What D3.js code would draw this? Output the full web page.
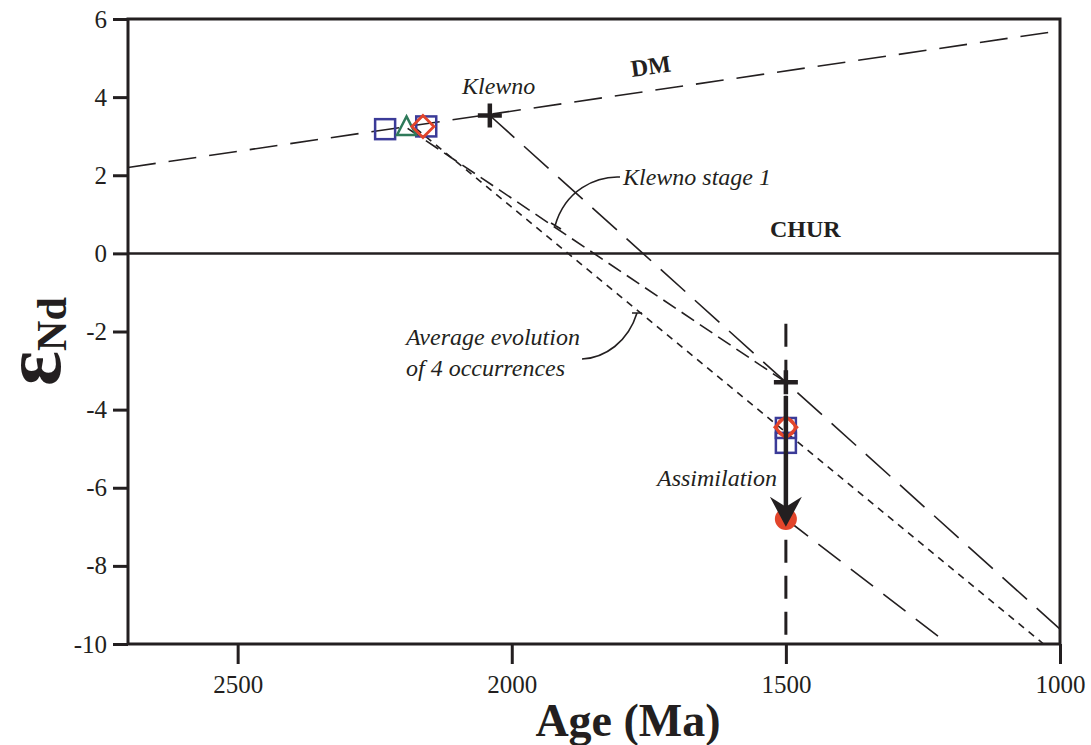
<!DOCTYPE html>
<html>
<head>
<meta charset="utf-8">
<script src="https://cdn.jsdelivr.net/npm/d3@7"></script>
<style>
  body { margin: 0; background: #fff; }
  svg { display: block; font-family: "Liberation Serif", "DejaVu Serif", serif; }
</style>
</head>
<body>
<svg id="chart" width="1091" height="745"></svg>
<script>
// Ticks
const xTicks = [2500, 2000, 1500, 1000];
const yTicks = [6, 4, 2, 0, -2, -4, -6, -8, -10];

// Evolution lines [age (Ma), eNd]
const dmLine = [[2700, 2.2], [1000, 5.7]];
const churLine = [[2700, 0], [1000, 0]];
const klewnoLine = [[2040, 3.53], [1000, -9.62]];
const stage1Line = [[2190, 3.2], [1500, -3.3]];
const averageLine = [[2175, 3.2], [1030, -10]];
const assimLine = [[1500, -6.8], [1204, -10]];
const line1500 = [[1500, -1.8], [1500, -10]];

// Samples
const squares = [[2231, 3.18], [2156, 3.25], [1500, -4.47], [1500, -4.85]];
const triangles = [[2192, 3.25]];
const diamonds = [[2162, 3.25], [1500, -4.45]];
const openCircles = [[1500, -4.45]];
const crosses = [[2040, 3.53], [1500, -3.3]];
const filledCircles = [[1500, -6.8]];
const arrow = [[1500, -3.65], [1500, -7.0]];

const svg = d3.select('#chart');
const plotL = 128, plotR = 1060, plotT = 19, plotB = 644;
const ink = '#231f20';

const x = d3.scaleLinear().domain([2700, 1000]).range([plotL, plotR]);
const y = d3.scaleLinear().domain([-10, 6]).range([plotB, plotT]);
const line = d3.line().x(d => x(d[0])).y(d => y(d[1]));

// Axes
const yAxis = svg.append('g')
    .attr('transform', `translate(${plotL},0)`)
    .call(d3.axisLeft(y).tickValues(yTicks).tickSize(15).tickPadding(6).tickFormat(d => String(d)));
const xAxis = svg.append('g')
    .attr('transform', `translate(0,${plotB})`)
    .call(d3.axisBottom(x).tickValues(xTicks).tickSize(20).tickPadding(11).tickFormat(d => String(d)));

[yAxis, xAxis].forEach(g => {
    g.attr('font-family', '"Liberation Serif", serif').attr('font-size', 25);
    g.select('.domain').remove();
    g.selectAll('.tick line').attr('stroke', ink).attr('stroke-width', 3);
    g.selectAll('.tick text').attr('fill', ink);
});

// Frame
svg.append('rect')
    .attr('x', plotL).attr('y', plotT)
    .attr('width', plotR - plotL).attr('height', plotB - plotT)
    .attr('fill', 'none').attr('stroke', ink).attr('stroke-width', 3);

// Lines
function drawLine(data, dash, width) {
    svg.append('path')
        .datum(data)
        .attr('d', line)
        .attr('fill', 'none')
        .attr('stroke', ink)
        .attr('stroke-width', width)
        .attr('stroke-dasharray', dash);
}
drawLine(dmLine, '28 13', 1.6);
drawLine(churLine, null, 2.5);
drawLine(klewnoLine, '33 13', 1.6);
drawLine(stage1Line, '15 7', 1.6);
drawLine(averageLine, '7 6', 1.6);
drawLine(assimLine, '28 13', 1.6);
drawLine(line1500, '23 13', 3);

// Markers
svg.selectAll('.sq').data(squares).enter().append('rect')
    .attr('x', d => x(d[0]) - 10).attr('y', d => y(d[1]) - 10)
    .attr('width', 20).attr('height', 20)
    .attr('fill', 'none').attr('stroke', '#3b3b98').attr('stroke-width', 2.5);

svg.selectAll('.tri').data(triangles).enter().append('path')
    .attr('d', d => `M${x(d[0])},${y(d[1]) - 10} L${x(d[0]) + 9.5},${y(d[1]) + 8.5} L${x(d[0]) - 9.5},${y(d[1]) + 8.5} Z`)
    .attr('fill', 'none').attr('stroke', '#2f7a5a').attr('stroke-width', 2.5);

svg.selectAll('.oc').data(openCircles).enter().append('circle')
    .attr('cx', d => x(d[0])).attr('cy', d => y(d[1])).attr('r', 9)
    .attr('fill', 'none').attr('stroke', '#e2452b').attr('stroke-width', 2.5);

svg.selectAll('.dia').data(diamonds).enter().append('path')
    .attr('d', d => `M${x(d[0])},${y(d[1]) - 11} L${x(d[0]) + 11},${y(d[1])} L${x(d[0])},${y(d[1]) + 11} L${x(d[0]) - 11},${y(d[1])} Z`)
    .attr('fill', 'none').attr('stroke', '#e2452b').attr('stroke-width', 2.8);

svg.selectAll('.fc').data(filledCircles).enter().append('circle')
    .attr('cx', d => x(d[0])).attr('cy', d => y(d[1])).attr('r', 11)
    .attr('fill', '#e2452b');

svg.selectAll('.cr').data(crosses).enter().append('path')
    .attr('d', d => `M${x(d[0]) - 12},${y(d[1])} H${x(d[0]) + 12} M${x(d[0])},${y(d[1]) - 12} V${y(d[1]) + 12}`)
    .attr('stroke', ink).attr('stroke-width', 4.5);

// Assimilation arrow
const ax = x(arrow[0][0]), ay0 = y(arrow[0][1]), ay1 = y(arrow[1][1]);
svg.append('line')
    .attr('x1', ax).attr('y1', ay0).attr('x2', ax).attr('y2', ay1 - 20)
    .attr('stroke', ink).attr('stroke-width', 4.5);
svg.append('path')
    .attr('d', `M${ax},${ay1} L${ax - 16},${ay1 - 30} L${ax},${ay1 - 20} L${ax + 16},${ay1 - 30} Z`)
    .attr('fill', ink);

// Labels
function label(txt, px, py, opts = {}) {
    const t = svg.append('text')
        .attr('x', px).attr('y', py)
        .attr('fill', ink)
        .style('font-size', (opts.size || 24) + 'px')
        .style('font-style', opts.italic ? 'italic' : 'normal')
        .style('font-weight', opts.bold ? 'bold' : 'normal')
        .attr('text-anchor', opts.anchor || 'start')
        .text(txt);
    if (opts.rotate) t.attr('transform', `rotate(${opts.rotate},${px},${py})`);
    return t;
}
label('Klewno', 462, 94, { italic: true });
label('DM', 632, 77, { bold: true, rotate: -8 });
label('CHUR', 770, 237, { bold: true });
label('Klewno stage 1', 623, 185, { italic: true });
label('Average evolution', 406, 345, { italic: true });
label('of 4 occurrences', 406, 376, { italic: true });
label('Assimilation', 657, 486, { italic: true });

// Leader curves
svg.append('path')
    .attr('d', 'M620,177 C596,176 565,190 555,226 M551,223 L561,229')
    .attr('fill', 'none').attr('stroke', ink).attr('stroke-width', 1.6);
svg.append('path')
    .attr('d', 'M582,359 C605,358 628,342 637,313 M632,313 L642,313')
    .attr('fill', 'none').attr('stroke', ink).attr('stroke-width', 1.6);

// Axis titles
svg.append('text')
    .attr('x', 628).attr('y', 736)
    .attr('text-anchor', 'middle')
    .attr('fill', ink)
    .style('font-size', '46px').style('font-weight', 'bold')
    .text('Age (Ma)');

const yt = svg.append('text')
    .attr('transform', 'translate(60,386) rotate(-90)')
    .attr('fill', ink)
    .style('font-weight', 'bold');
yt.append('tspan').style('font-size', '82px').text('ε');
yt.append('tspan').style('font-size', '42px').attr('dy', 6).text('Nd');
</script>
</body>
</html>
